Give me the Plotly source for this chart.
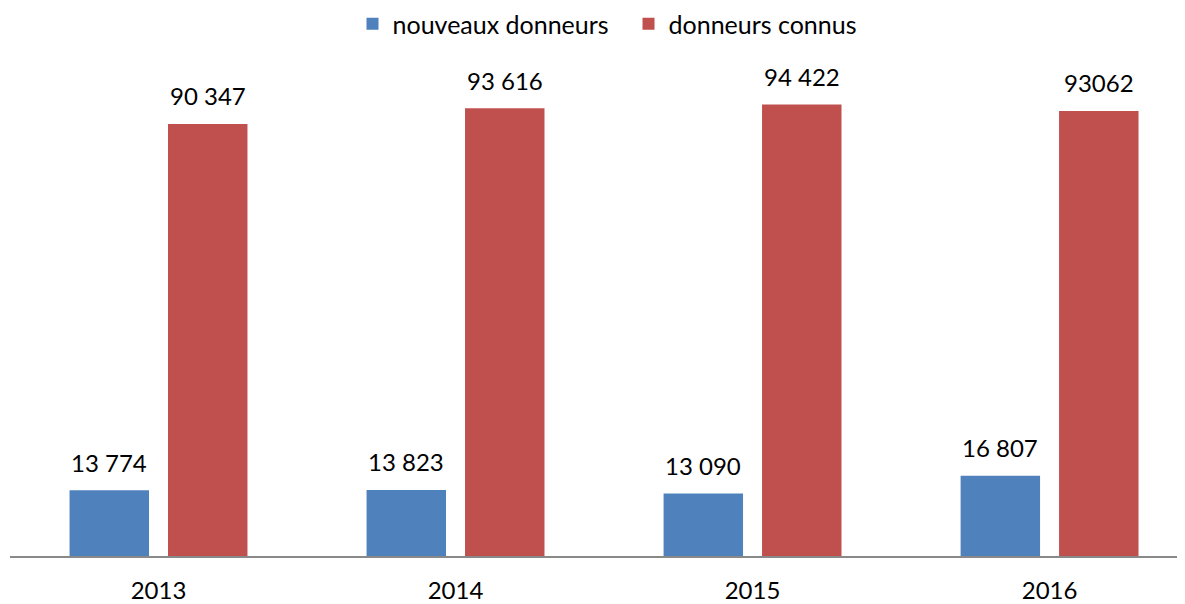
import plotly.graph_objects as go

years = ["2013", "2014", "2015", "2016"]
nouveaux = [13774, 13823, 13090, 16807]
connus = [90347, 93616, 94422, 93062]
nouveaux_labels = ["13 774", "13 823", "13 090", "16 807"]
connus_labels = ["90 347", "93 616", "94 422", "93062"]

BLUE = "#4F81BD"
RED = "#C0504D"
FONT = "Lato"
FS = 24

fig = go.Figure()
fig.add_trace(go.Bar(name="nouveaux donneurs", x=years, y=nouveaux,
                     marker=dict(color=BLUE, line=dict(width=0))))
fig.add_trace(go.Bar(name="donneurs connus", x=years, y=connus,
                     marker=dict(color=RED, line=dict(width=0))))

shift = 49.25
for i, yr in enumerate(years):
    fig.add_annotation(x=i, y=nouveaux[i], xref="x", yref="y", text=nouveaux_labels[i],
                       showarrow=False, xshift=-shift, yshift=28,
                       font=dict(size=FS, color="#000", family=FONT))
    fig.add_annotation(x=i, y=connus[i], xref="x", yref="y", text=connus_labels[i],
                       showarrow=False, xshift=shift, yshift=28,
                       font=dict(size=FS, color="#000", family=FONT))

# page body has an 8px default margin, so the figure is offset by 8px
fig.update_layout(
    width=1177, height=596,
    margin=dict(l=2, r=0, t=32, b=48, autoexpand=False),
    paper_bgcolor="white", plot_bgcolor="white",
    font=dict(family=FONT, size=FS, color="#000"),
    barmode="group", bargap=0.337, bargroupgap=0.193,
    showlegend=True,
    legend=dict(orientation="h", x=0.2915, xanchor="left", yref="paper", y=1.031,
                yanchor="middle", font=dict(size=25), itemwidth=30, traceorder="normal",
                entrywidth=231),
    xaxis=dict(type="category", range=[-0.5, 3.456], showline=True, linecolor="#898989",
               linewidth=2, ticks="outside", ticklen=12, tickcolor="rgba(0,0,0,0)",
               showgrid=False, tickfont=dict(size=FS), fixedrange=True),
    yaxis=dict(range=[0, 107900], showticklabels=False, showline=False, zeroline=False,
               showgrid=False, ticks="", fixedrange=True),
)

fig.write_html("out.html")
